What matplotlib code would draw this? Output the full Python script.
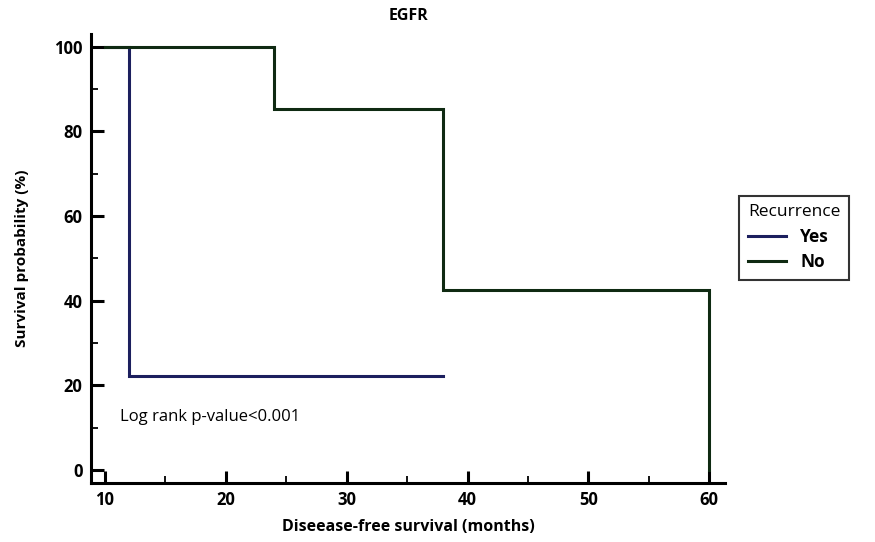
import matplotlib
matplotlib.use("Agg")
import matplotlib.pyplot as plt
from matplotlib.lines import Line2D

plt.rcParams['font.family'] = ['Open Sans', 'DejaVu Sans']

# Data (step curves)
yes_time = [10, 12, 12, 38]
yes_surv = [100, 100, 22.2, 22.2]
no_time = [10, 24, 24, 38, 38, 60, 60]
no_surv = [100, 100, 85.2, 85.2, 42.6, 42.6, 0]
xticks = [10, 20, 30, 40, 50, 60]
yticks = [0, 20, 40, 60, 80, 100]
yes_color = '#1c1f5e'
no_color = '#0f2a12'

fig = plt.figure(figsize=(8.75, 5.42), dpi=100)
ax = fig.add_axes([0.104, 0.109, 0.7246, 0.8284])

ax.plot(yes_time, yes_surv, color=yes_color, lw=2.2, solid_joinstyle='miter')
ax.plot(no_time, no_surv, color=no_color, lw=2.2, solid_joinstyle='miter')

ax.set_xlim(8.84, 61.3)
ax.set_ylim(-3, 103)
ax.set_xticks(xticks)
ax.set_yticks(yticks)
ax.set_xticks([15, 25, 35, 45, 55], minor=True)
ax.set_yticks([10, 30, 50, 70, 90], minor=True)
for s in ['top', 'right']:
    ax.spines[s].set_visible(False)
for s in ['left', 'bottom']:
    ax.spines[s].set_linewidth(2.2)
ax.tick_params(which='major', direction='in', length=9, width=2.2, labelsize=12, pad=6)
ax.tick_params(which='minor', direction='in', length=5, width=1.3)
for lab in ax.get_xticklabels() + ax.get_yticklabels():
    lab.set_fontweight('bold')

ax.set_xlabel('Diseease-free survival (months)', fontsize=11.5, fontweight='bold', labelpad=7)
ax.set_ylabel('Survival probability (%)', fontsize=11, fontweight='bold', labelpad=18)
ax.set_title('EGFR', fontsize=11.5, fontweight='bold', pad=10)

ax.text(11.2, 12.5, 'Log rank p-value<0.001', fontsize=12, va='center', ha='left')

handles = [Line2D([], [], color=yes_color, lw=2.2), Line2D([], [], color=no_color, lw=2.2)]
leg = fig.legend(handles, ['Yes', 'No'], title='Recurrence', loc='upper left',
                 bbox_to_anchor=(0.845, 0.639), fontsize=12.5, title_fontsize=12.5,
                 frameon=True, fancybox=False, edgecolor='black', handlelength=2.2,
                 borderpad=0.5, labelspacing=0.42, handletextpad=0.8, borderaxespad=0)
leg.get_frame().set_linewidth(1.5)
leg._legend_box.align = 'left'
for t in leg.get_texts():
    t.set_fontweight('bold')

fig.savefig('out.png', dpi=100)
